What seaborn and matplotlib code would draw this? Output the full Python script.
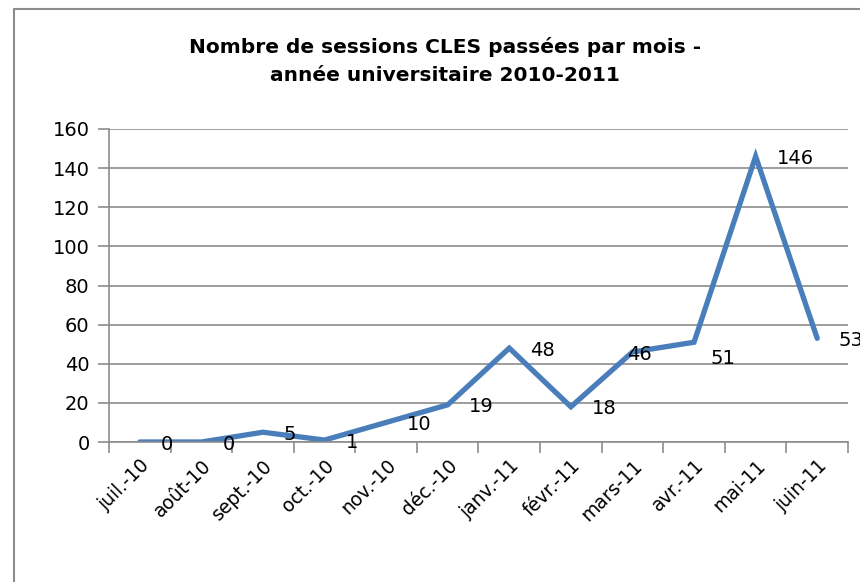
import matplotlib
matplotlib.use("Agg")
import matplotlib.pyplot as plt
import seaborn as sns
import pandas as pd
from matplotlib.lines import Line2D
from matplotlib.ticker import FixedLocator, NullFormatter

# chart data
months = ["juil.-10", "août-10", "sept.-10", "oct.-10", "nov.-10", "déc.-10",
          "janv.-11", "févr.-11", "mars-11", "avr.-11", "mai-11", "juin-11"]
sessions = [0, 0, 5, 1, 10, 19, 48, 18, 46, 51, 146, 53]
y_ticks = [0, 20, 40, 60, 80, 100, 120, 140, 160]

title = "Nombre de sessions CLES passées par mois -\nannée universitaire 2010-2011"

df = pd.DataFrame({"mois": months, "sessions": sessions})
df["pos"] = range(len(df))

sns.set_theme(style="white")
plt.rcParams["font.family"] = ["DejaVu Sans"]
plt.rcParams["text.color"] = "black"
plt.rcParams["xtick.labelcolor"] = "black"
plt.rcParams["ytick.labelcolor"] = "black"

fig = plt.figure(figsize=(8.6, 5.82), dpi=100)
ax = fig.add_axes([109 / 860, 1 - 442 / 582, (848 - 109) / 860, (442 - 129) / 582])

sns.lineplot(data=df, x="pos", y="sessions", ax=ax, color="#4A7EBB",
             linewidth=3.8, solid_joinstyle="miter")

# data labels, placed right of each point like the Excel default
label_offsets = {8: (-5, -2), 9: (16, -16)}
for i, v in enumerate(sessions):
    dx, dy = label_offsets.get(i, (21, -2))
    ax.annotate(str(v), (i, v), xytext=(dx, dy), textcoords="offset pixels",
                ha="left", va="center", fontsize=14, color="black")

ax.set_xlim(-0.5, len(months) - 0.5)
ax.set_ylim(0, 160)
ax.set_yticks(y_ticks)
ax.set_yticklabels([str(t) for t in y_ticks], fontsize=14)
ax.set_xticks(range(len(months)))
ax.set_xticklabels(months, rotation=45, ha="right", rotation_mode="anchor", fontsize=13.5)
ax.xaxis.set_minor_locator(FixedLocator([i - 0.5 for i in range(len(months) + 1)]))
ax.xaxis.set_minor_formatter(NullFormatter())
ax.tick_params(axis="x", which="major", length=0, pad=10)
ax.tick_params(axis="x", which="minor", length=8, width=1.2, color="#8c8c8c", direction="out", bottom=True)
ax.tick_params(axis="y", length=8, width=1.2, color="#8c8c8c", direction="out", left=True, pad=6)
ax.grid(axis="y", color="#8c8c8c", linewidth=1.2)
ax.set_axisbelow(True)

for side in ["top", "right"]:
    ax.spines[side].set_visible(False)
for side in ["left", "bottom"]:
    ax.spines[side].set_color("#8c8c8c")
    ax.spines[side].set_linewidth(1.2)
ax.set_xlabel("")
ax.set_ylabel("")

fig.text(445 / 860, 1 - 61 / 582, title, ha="center", va="center",
         fontsize=14.5, fontweight="bold", linespacing=1.65, color="black")

# chart area border (left and top edges visible)
fig.add_artist(Line2D([14 / 860, 14 / 860], [0, 1 - 9 / 582], transform=fig.transFigure,
                      color="#8c8c8c", linewidth=1.5))
fig.add_artist(Line2D([14 / 860, 1], [1 - 9 / 582, 1 - 9 / 582], transform=fig.transFigure,
                      color="#8c8c8c", linewidth=1.5))

fig.savefig("out.png", dpi=100)
